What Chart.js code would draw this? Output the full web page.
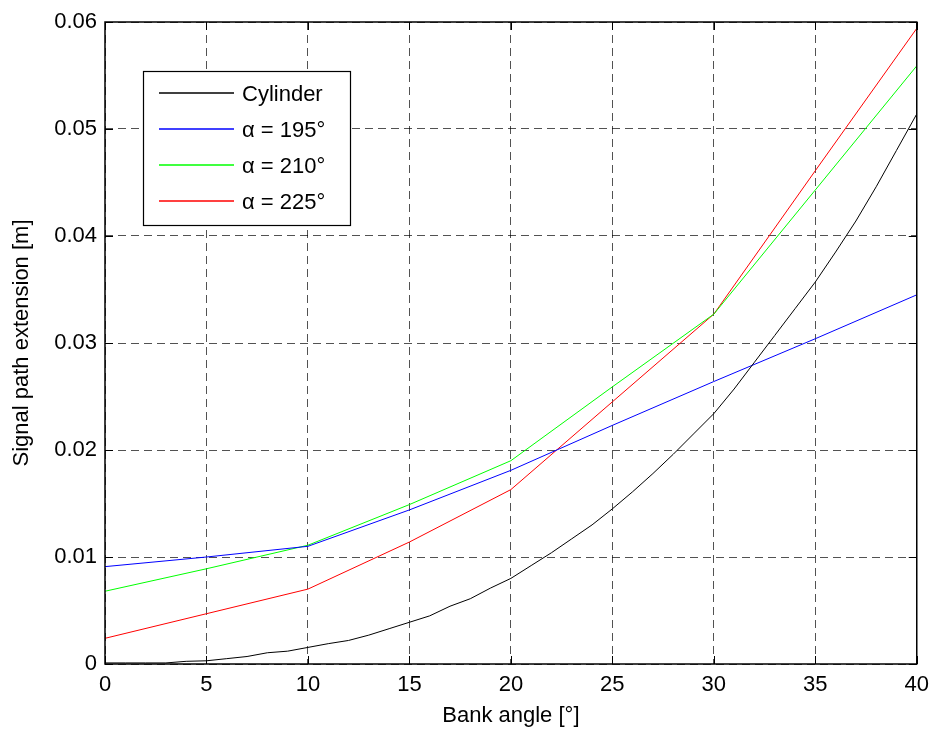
<!DOCTYPE html>
<html>
<head>
<meta charset="utf-8">
<script src="https://cdn.jsdelivr.net/npm/chart.js@4.4.1/dist/chart.umd.min.js"></script>
<style>
  html, body { margin: 0; padding: 0; background: #fff; }
  #wrap { width: 937px; height: 733px; }
</style>
</head>
<body>
<div id="wrap"><canvas id="chart"></canvas></div>
<script>
// bank angle in degrees
var anglesCoarse = [0, 5, 10, 15, 20, 25, 30, 35, 40];
var anglesFine = [0, 1, 2, 3, 4, 5, 6, 7, 8, 9, 10, 11, 12, 13, 14, 15, 16, 17, 18, 19, 20,
                  21, 22, 23, 24, 25, 26, 27, 28, 29, 30, 31, 32, 33, 34, 35, 36, 37, 38, 39, 40];

// signal path extension [m]
var cylinder = [0.0001, 0.0001, 0.0001, 0.0001, 0.00025, 0.0003, 0.0005, 0.0007, 0.00105, 0.0012,
                0.00155, 0.0019, 0.0022, 0.0027, 0.0033, 0.0039, 0.0045, 0.0054, 0.0061, 0.0071,
                0.0080, 0.0092, 0.0104, 0.0117, 0.0130, 0.0145, 0.0161, 0.0178, 0.0196, 0.0215,
                0.0234, 0.0257, 0.0282, 0.0307, 0.0332, 0.0357, 0.0385, 0.0414, 0.0446, 0.0480, 0.0514];
var alpha195 = [0.0091, 0.0100, 0.0110, 0.0144, 0.0181, 0.0223, 0.0264, 0.0304, 0.0345];
var alpha210 = [0.0068, 0.0089, 0.0111, 0.0149, 0.0190, 0.0259, 0.0327, 0.0443, 0.0559];
var alpha225 = [0.0024, 0.0047, 0.0070, 0.0114, 0.0163, 0.0245, 0.0327, 0.0461, 0.0594];

var seriesLabels = ['Cylinder', '\u03b1 = 195\u00b0', '\u03b1 = 210\u00b0', '\u03b1 = 225\u00b0'];
var seriesColors = ['#000000', '#0000ff', '#00ff00', '#ff0000'];

var xTicks = [0, 5, 10, 15, 20, 25, 30, 35, 40];
var xTickLabels = ['0', '5', '10', '15', '20', '25', '30', '35', '40'];
var yTicks = [0, 0.01, 0.02, 0.03, 0.04, 0.05, 0.06];
var yTickLabels = ['0', '0.01', '0.02', '0.03', '0.04', '0.05', '0.06'];

var FONT = 'Liberation Sans, Arial, sans-serif';

function pts(xs, ys) {
    return xs.map(function (x, i) { return { x: x, y: ys[i] }; });
}

function line(i, data) {
    return {
        label: seriesLabels[i],
        data: data,
        showLine: true,
        borderColor: seriesColors[i],
        backgroundColor: seriesColors[i],
        borderWidth: 1,
        pointRadius: 0,
        tension: 0,
        fill: false
    };
}

// box around the plot, inward ticks on all sides and the legend
var matlabAxes = {
    id: 'matlabAxes',
    afterDraw: function (chart) {
        var g = chart.ctx;
        var area = chart.chartArea;
        var xs = chart.scales.x, ys = chart.scales.y;
        var tl = 8;
        g.save();
        g.setLineDash([]);
        g.strokeStyle = '#000';
        g.lineWidth = 1;
        g.beginPath();
        xTicks.forEach(function (v) {
            var px = Math.round(xs.getPixelForValue(v)) + 0.5;
            g.moveTo(px, area.bottom); g.lineTo(px, area.bottom - tl);
            g.moveTo(px, area.top); g.lineTo(px, area.top + tl);
        });
        yTicks.forEach(function (v) {
            var py = Math.round(ys.getPixelForValue(v)) + 0.5;
            g.moveTo(area.left, py); g.lineTo(area.left + tl, py);
            g.moveTo(area.right, py); g.lineTo(area.right - tl, py);
        });
        g.stroke();

        g.lineWidth = 1.5;
        g.strokeRect(area.left, area.top, area.right - area.left, area.bottom - area.top);

        // legend
        var lx = 143, ly = 71, lw = 207, lh = 154;
        g.fillStyle = '#fff';
        g.fillRect(lx, ly, lw, lh);
        g.lineWidth = 1.2;
        g.strokeStyle = '#000';
        g.strokeRect(lx + 0.5, ly + 0.5, lw, lh);
        g.font = '22px ' + FONT;
        g.textBaseline = 'middle';
        g.textAlign = 'left';
        for (var i = 0; i < seriesLabels.length; i++) {
            var y = Math.round(ly + 21.5 + i * 36.3);
            g.beginPath();
            g.strokeStyle = seriesColors[i];
            g.lineWidth = 1.6;
            g.moveTo(159, y);
            g.lineTo(234, y);
            g.stroke();
            g.fillStyle = '#000';
            g.fillText(seriesLabels[i], 242, y + 2);
        }
        g.restore();
    }
};

var c = document.getElementById('chart');
var ctx = c.getContext('2d');
var myChart = new Chart(ctx, {
    type: 'scatter',
    data: {
        datasets: [
            line(0, pts(anglesFine, cylinder)),
            line(1, pts(anglesCoarse, alpha195)),
            line(2, pts(anglesCoarse, alpha210)),
            line(3, pts(anglesCoarse, alpha225))
        ]
    },
    options: {
        responsive: true,
        maintainAspectRatio: false,
        animation: false,
        layout: { padding: { top: 22, right: 19, left: 0, bottom: 0 } },
        plugins: {
            legend: { display: false },
            tooltip: { enabled: false }
        },
        scales: {
            x: {
                type: 'linear',
                min: 0,
                max: 40,
                afterFit: function (s) { s.height = 69; },
                afterBuildTicks: function (s) {
                    s.ticks = xTicks.map(function (v) { return { value: v }; });
                },
                ticks: {
                    color: '#000',
                    font: { family: FONT, size: 22 },
                    padding: 8,
                    maxRotation: 0,
                    callback: function (v, i) { return xTickLabels[i]; }
                },
                grid: { color: 'rgba(0,0,0,0.68)', lineWidth: 1, drawTicks: false },
                border: { display: false, dash: [8, 5] },
                title: {
                    display: true,
                    text: 'Bank angle [\u00b0]',
                    color: '#000',
                    font: { family: FONT, size: 22 },
                    padding: { top: 0, bottom: 4 }
                }
            },
            y: {
                type: 'linear',
                min: 0,
                max: 0.06,
                afterFit: function (s) { s.width = 105; },
                afterBuildTicks: function (s) {
                    s.ticks = yTicks.map(function (v) { return { value: v }; });
                },
                ticks: {
                    color: '#000',
                    font: { family: FONT, size: 22 },
                    padding: 8,
                    callback: function (v, i) { return yTickLabels[i]; }
                },
                grid: { color: 'rgba(0,0,0,0.68)', lineWidth: 1, drawTicks: false },
                border: { display: false, dash: [8, 5] },
                title: {
                    display: true,
                    text: 'Signal path extension [m]',
                    color: '#000',
                    font: { family: FONT, size: 22 },
                    padding: { top: 9, bottom: 0 }
                }
            }
        }
    },
    plugins: [matlabAxes]
});
</script>
</body>
</html>
